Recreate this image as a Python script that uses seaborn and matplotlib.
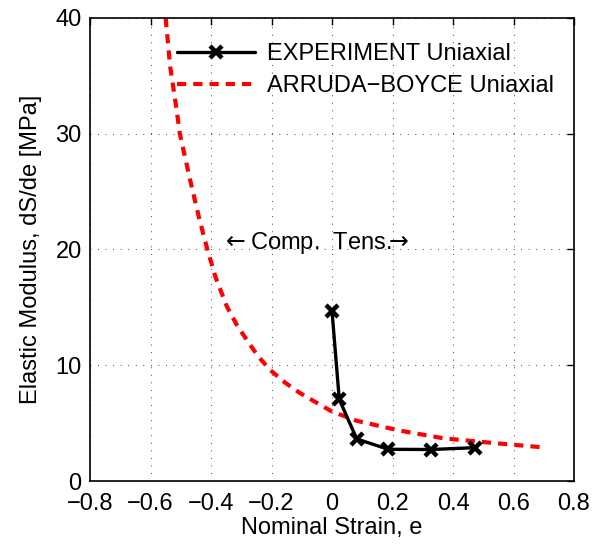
import numpy as np
import pandas as pd
import matplotlib
matplotlib.use("Agg")
import matplotlib.pyplot as plt
import seaborn as sns

# Experimental data
exp_strain = [0.0, 0.024, 0.082, 0.186, 0.327, 0.473]
exp_modulus = [14.7, 7.05, 3.63, 2.74, 2.72, 2.88]

# Arruda-Boyce model curve
ab_strain = [-0.55, -0.535, -0.516, -0.503, -0.469, -0.44, -0.412, -0.385, -0.348,
             -0.315, -0.282, -0.245, -0.205, -0.155, -0.106, -0.05, 0.0,
             0.082, 0.225, 0.368, 0.543, 0.70]
ab_modulus = [40.0, 35.8, 32.5, 30.0, 26.0, 22.8, 20.0, 17.6, 15.1,
              13.5, 12.2, 10.8, 9.6, 8.5, 7.6, 6.75, 6.0,
              5.2, 4.35, 3.69, 3.26, 2.9]

xticks = [-0.8, -0.6, -0.4, -0.2, 0, 0.2, 0.4, 0.6, 0.8]
xticklabels = ["\u22120.8", "\u22120.6", "\u22120.4", "\u22120.2", "0", "0.2", "0.4", "0.6", "0.8"]
yticks = [0, 10, 20, 30, 40]

sns.set_style("white")
plt.rcParams['font.family'] = ['Liberation Sans', 'DejaVu Sans']
FS = 17
plt.rcParams['font.size'] = FS
plt.rcParams['text.color'] = 'black'
plt.rcParams['axes.labelcolor'] = 'black'
plt.rcParams['mathtext.fontset'] = 'dejavusans'

fig = plt.figure(figsize=(5.94, 5.5), dpi=100)
ax = fig.add_axes([90/594, 1-481/550, (574-90)/594, (481-18)/550])

df_exp = pd.DataFrame({"strain": exp_strain, "modulus": exp_modulus})
df_ab = pd.DataFrame({"strain": ab_strain, "modulus": ab_modulus})

sns.lineplot(data=df_exp, x="strain", y="modulus", ax=ax, color="black", lw=2.4,
             marker="x", markersize=9, markeredgewidth=3.2, markeredgecolor="black",
             sort=False, label="EXPERIMENT Uniaxial", zorder=3)
sns.lineplot(data=df_ab, x="strain", y="modulus", ax=ax, color="#ff0000", lw=3,
             sort=False, label="ARRUDA\u2212BOYCE Uniaxial", zorder=2)
ax.lines[1].set_dashes((2.2, 1.7))

ax.set_xlim(-0.8, 0.8)
ax.set_ylim(0, 40)
ax.set_xticks(xticks)
ax.set_xticklabels(xticklabels)
ax.set_yticks(yticks)
ax.tick_params(direction="in", length=5, width=1, top=True, right=True,
               labelsize=FS, colors="black")
ax.tick_params(axis="x", pad=9)
ax.tick_params(axis="y", pad=6)
ax.grid(True, color="#444444", linestyle=(0, (0.8, 6)), linewidth=0.8)
for s in ax.spines.values():
    s.set_visible(True)
    s.set_color("black")
    s.set_linewidth(1.2)

ax.set_xlabel("Nominal Strain, e", fontsize=FS, labelpad=1, color="black")
ax.set_ylabel("Elastic Modulus, dS/de [MPa]", fontsize=FS, labelpad=10, color="black")

ax.text(-0.368, 20.6, r"$\leftarrow$Comp.  Tens.$\!\!\rightarrow$", fontsize=FS,
        ha="left", va="center", color="black")

leg = ax.legend(loc="upper left", bbox_to_anchor=(0.18, 0.945), frameon=False,
                fontsize=FS, handlelength=3.3, handletextpad=0.5, labelspacing=0.4,
                borderaxespad=0, borderpad=0)
for t in leg.get_texts():
    t.set_color("black")

fig.savefig("out.png", dpi=100)
